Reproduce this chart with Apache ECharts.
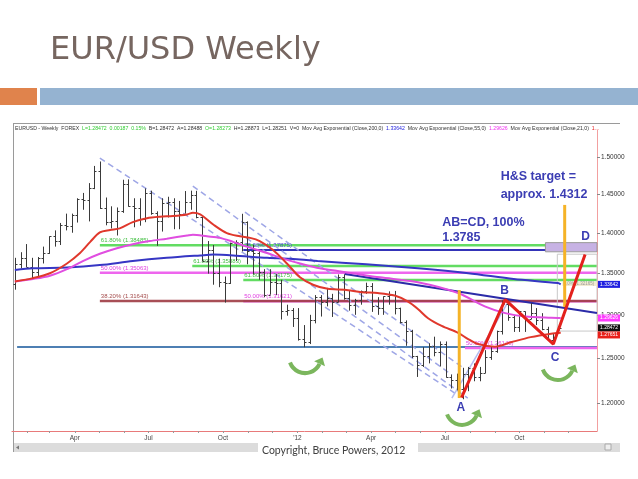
<!DOCTYPE html>
<html><head><meta charset="utf-8">
<script src="https://cdn.jsdelivr.net/npm/echarts@6/dist/echarts.min.js"></script>
<style>html,body{margin:0;padding:0;background:#fff}#c{width:638px;height:479px}</style>
</head><body><div id="c"></div><script>
// Weekly EUR/USD bars, index 0 = week of 17 Jan 2011 ... 96 = week of 19 Nov 2012
const opens = [1.3370,1.3616,1.3693,1.3580,1.3520,1.3690,1.3750,1.3960,1.3900,1.4100,1.4090,1.4235,1.4440,1.4425,1.4580,1.4810,1.4320,1.4140,1.4150,1.4280,1.4640,1.4345,1.4320,1.4180,1.4515,1.4260,1.4150,1.4390,1.4395,1.4280,1.4250,1.4395,1.4495,1.4205,1.3655,1.3790,1.3500,1.3390,1.3380,1.3870,1.3890,1.4145,1.3770,1.3750,1.3520,1.3240,1.3390,1.3380,1.3045,1.3060,1.2960,1.2720,1.2680,1.2935,1.3215,1.3150,1.3200,1.3150,1.3450,1.3200,1.3120,1.3180,1.3280,1.3340,1.3100,1.3080,1.3220,1.3240,1.3080,1.2920,1.2815,1.2520,1.2420,1.2520,1.2640,1.2570,1.2660,1.2290,1.2250,1.2155,1.2320,1.2385,1.2290,1.2335,1.2515,1.2575,1.2815,1.3130,1.2970,1.2860,1.3040,1.2950,1.3020,1.2940,1.2830,1.2710,1.2827];
const highs = [1.3690,1.3760,1.3862,1.3690,1.3700,1.3830,1.3960,1.4035,1.4130,1.4250,1.4250,1.4450,1.4520,1.4650,1.4880,1.4940,1.4460,1.4345,1.4330,1.4695,1.4700,1.4450,1.4450,1.4580,1.4550,1.4280,1.4450,1.4470,1.4450,1.4415,1.4545,1.4550,1.4548,1.4210,1.3900,1.3850,1.3680,1.3460,1.3880,1.3910,1.4248,1.4150,1.3850,1.3790,1.3550,1.3550,1.3490,1.3420,1.3120,1.3080,1.3080,1.2880,1.3000,1.3235,1.3235,1.3322,1.3250,1.3485,1.3487,1.3290,1.3190,1.3290,1.3385,1.3380,1.3210,1.3220,1.3280,1.3285,1.3085,1.2935,1.2825,1.2525,1.2625,1.2670,1.2745,1.2690,1.2690,1.2315,1.2325,1.2390,1.2400,1.2440,1.2400,1.2590,1.2635,1.2815,1.3170,1.3170,1.3000,1.3040,1.3040,1.3140,1.3080,1.3020,1.2860,1.2780,1.2887];
const lows = [1.3300,1.3560,1.3575,1.3430,1.3440,1.3620,1.3740,1.3830,1.3850,1.4035,1.4005,1.4135,1.4300,1.4150,1.4570,1.4310,1.4100,1.4060,1.3970,1.4260,1.4340,1.4075,1.4095,1.4140,1.4235,1.3840,1.4020,1.4200,1.4050,1.4050,1.4250,1.4300,1.4190,1.3650,1.3495,1.3360,1.3330,1.3145,1.3370,1.3650,1.3770,1.3610,1.3485,1.3420,1.3210,1.3240,1.3235,1.2945,1.2990,1.2858,1.2700,1.2624,1.2660,1.2900,1.2980,1.3100,1.2975,1.3150,1.3180,1.3050,1.3000,1.3120,1.3250,1.3035,1.3000,1.3000,1.3120,1.3005,1.2900,1.2640,1.2500,1.2288,1.2400,1.2440,1.2520,1.2405,1.2280,1.2160,1.2140,1.2042,1.2130,1.2240,1.2240,1.2330,1.2480,1.2560,1.2770,1.2930,1.2800,1.2800,1.2800,1.2950,1.2880,1.2820,1.2700,1.2660,1.2825];
const closes = [1.3616,1.3693,1.3580,1.3520,1.3690,1.3750,1.3960,1.3900,1.4100,1.4090,1.4235,1.4440,1.4425,1.4580,1.4810,1.4320,1.4140,1.4150,1.4280,1.4640,1.4345,1.4320,1.4180,1.4515,1.4260,1.4150,1.4390,1.4395,1.4280,1.4250,1.4395,1.4495,1.4205,1.3655,1.3790,1.3500,1.3390,1.3380,1.3870,1.3890,1.4145,1.3770,1.3750,1.3520,1.3240,1.3390,1.3380,1.3045,1.3060,1.2960,1.2720,1.2680,1.2935,1.3215,1.3150,1.3200,1.3150,1.3450,1.3200,1.3120,1.3180,1.3280,1.3340,1.3100,1.3080,1.3220,1.3240,1.3080,1.2920,1.2815,1.2520,1.2420,1.2520,1.2640,1.2570,1.2660,1.2290,1.2250,1.2155,1.2320,1.2385,1.2290,1.2335,1.2515,1.2575,1.2815,1.3130,1.2970,1.2860,1.3040,1.2950,1.3020,1.2940,1.2830,1.2710,1.2745,1.2847];

// Moving averages: [week index, price]
const ema21 = [[0,1.340],[3.2,1.344],[6.2,1.350],[9.2,1.362],[11.5,1.375],[13.3,1.389],[15,1.401],[16.8,1.404],[18.5,1.406],[20.8,1.414],[23.3,1.419],[25.6,1.421],[27.9,1.422],[30.4,1.424],[31.4,1.426],[32.7,1.424],[35,1.411],[37.4,1.400],[39.7,1.396],[41.5,1.394],[43.2,1.390],[45.5,1.379],[48,1.362],[50.3,1.345],[52.6,1.336],[55.2,1.331],[58.2,1.330],[61.2,1.327],[64,1.326],[67,1.323],[69.3,1.316],[71.1,1.307],[72.9,1.296],[75.3,1.287],[78.2,1.279],[79.9,1.272],[81.7,1.266],[84.7,1.263],[87.5,1.268],[91,1.274],[94.6,1.278],[96.3,1.279]];
const ema55 = [[0,1.340],[3.2,1.343],[6.2,1.347],[9.2,1.355],[12,1.365],[15,1.374],[18,1.381],[20.8,1.386],[23.8,1.390],[26.8,1.393],[30.4,1.397],[31.4,1.398],[33.9,1.396],[36.2,1.394],[38.5,1.389],[40.9,1.383],[44.5,1.375],[47.3,1.368],[50.3,1.362],[53.8,1.356],[59.6,1.350],[64.4,1.345],[71.1,1.339],[78.2,1.326],[82.9,1.310],[86.5,1.302],[90,1.298],[94.6,1.2965],[96.3,1.2963]];
const ema200 = [[0,1.354],[3.2,1.356],[9.2,1.357],[15,1.360],[20.8,1.365],[26.8,1.369],[32.7,1.372],[35,1.373],[38.5,1.372],[44.5,1.369],[50.3,1.367],[53.4,1.365],[62,1.361],[71.1,1.356],[80,1.350],[88,1.343],[95.8,1.338],[96.3,1.3364]];

// Axis tick labels
const xLabelPos = [10.57, 23.57, 36.71, 49.86, 62.86, 75.86, 89.0];
const xLabelText = ['Apr','Jul','Oct',"'12",'Apr','Jul','Oct'];
const xMonthTicks = [2.14,6.14,10.57,14.86,19.29,23.57,28.0,32.43,36.71,41.14,45.43,49.86,54.29,58.43,62.86,67.14,71.57,75.86,80.29,84.71,89.0,93.43,97.71];
const yTicks = [1.20,1.25,1.30,1.35,1.40,1.45,1.50];

// Horizontal levels (Fibonacci / support)
const levelStart = [15.0,15.0,40.3,15.0,31.3,40.3,40.3,0.4,79.4];
const levelPrice = [1.38485,1.35063,1.31621,1.31643,1.35883,1.37875,1.34175,1.2627,1.2615];
const levelText  = ['61.80% (1.38485)','50.00% (1.35063)','50.00% (1.31621)','38.20% (1.31643)','61.80% (1.35883)','78.60% (1.37875)','61.80% (1.34175)','','50.00% (1.26148)'];
const levelKind  = ['fib618','fib50','fib50','fib382','fib618','fib786','fib618','support','fib50'];

// Neckline (sloped trend line)
const necklineIdx = [58.2, 102.7];
const necklinePrice = [1.349, 1.3021];

// Descending dashed channel lines
const chanStartIdx = [15.0, 31.4, 40.6, 39.4];
const chanStartPrice = [1.4987, 1.4611, 1.4270, 1.4014];
const chanEndIdx = [77.6, 77.1, 78.9, 79.9];
const chanEndPrice = [1.2110, 1.2310, 1.2399, 1.2055];

// Rising regression line from A
const riseIdx = [77.1, 87.0];
const risePrice = [1.2055, 1.3152];

// AB=CD pattern
const abcdIdx = [78.8, 86.5, 95.0, 100.6];
const abcdPrice = [1.206, 1.318, 1.266, 1.373];
const abcdLabel = ['A','B','C','D'];
const abcdLabelIdx = [78.7, 86.4, 95.3, 100.7];
const abcdLabelPrice = [1.1946, 1.3284, 1.2500, 1.395];

// Orange measuring lines
const orangeIdx = [78.4, 97.0];
const orangeLow = [1.2055, 1.3092];
const orangeHigh = [1.3296, 1.4363];

// Green turn arrows
const arrowIdx = [51.2, 78.9, 95.8];
const arrowPrice = [1.2421, 1.185, 1.2343];

// Notes
const noteText = ['H&S target =','approx. 1.4312','AB=CD, 100%','1.3785'];
const noteIdx = [85.7, 85.7, 75.4, 75.4];
const notePrice = [1.4731, 1.4505, 1.4141, 1.3938];

// Right-axis value boxes
const tagPrice = [1.33642, 1.29626, 1.28472, 1.2765];
const tagText = ['1.33642','1.29626','1.28472','1.27651'];
const tagKind = ['ema200','ema55','last','ema21'];

const X_MIN = -0.5, X_MAX = 102.7;
const levelStyle = {
  fib618:{line:'#62dc62', w:2.5, text:'#3fbf3f'},
  fib50:{line:'#ee66ee', w:2.5, text:'#e040e0'},
  fib382:{line:'#9e3c44', w:2.5, text:'#a34a4a'},
  fib786:{line:'#3434b8', w:2, text:'#4a4ac8'},
  support:{line:'#4d7fb3', w:2, text:'#4d7fb3'}
};
const tagStyle = {ema200:'#2020e0', ema55:'#ff3cff', last:'#111111', ema21:'#e8201a'};

const chart = echarts.init(document.getElementById('c'), null, {renderer:'canvas'});

function txt(x,y,text,fill,font,align,valign){
  return {type:'text', style:{x:x,y:y,text:text,fill:fill,font:font,textAlign:align||'left',textVerticalAlign:valign||'middle',align:align||'left',verticalAlign:valign||'middle'}};
}

const option = {
  animation:false,
  backgroundColor:'#ffffff',
  grid:{left:12, right:41, top:130, bottom:48, containLabel:false, outerBoundsMode:'none'},
  xAxis:{type:'value', min:X_MIN, max:X_MAX,
    axisLine:{show:true, onZero:false, lineStyle:{color:'#e87a7a', width:1}},
    axisTick:{show:true, customValues:xMonthTicks, length:2, lineStyle:{color:'#999'}},
    axisLabel:{show:true, customValues:xLabelPos, fontSize:6.5, color:'#444', margin:4, fontFamily:'Liberation Sans',
      formatter:function(v){ let b=0; for(let i=1;i<xLabelPos.length;i++){ if(Math.abs(xLabelPos[i]-v)<Math.abs(xLabelPos[b]-v)) b=i; } return xLabelText[b]; }},
    splitLine:{show:false}},
  yAxis:{type:'log', logBase:10, min:1.17, max:1.5373, position:'right',
    axisLine:{show:true, onZero:false, lineStyle:{color:'#f2a0a0', width:1}},
    axisTick:{show:true, customValues:yTicks, length:3, lineStyle:{color:'#888'}},
    axisLabel:{show:true, customValues:yTicks, fontSize:6.5, color:'#333', margin:4, fontFamily:'Liberation Sans',
      formatter:function(v){ return Number(v).toFixed(5); }},
    splitLine:{show:false}},
  graphic:{elements:[
    {type:'rect', silent:true, shape:{x:0,y:88,width:37,height:17}, style:{fill:'#e0834c'}},
    {type:'rect', silent:true, shape:{x:40,y:88,width:598,height:17}, style:{fill:'#95b3d1'}},
    Object.assign(txt(50,51,'EUR/USD Weekly','#766660','normal 32px "DejaVu Sans"'),{silent:true}),
    {type:'line', silent:true, shape:{x1:13,y1:123.5,x2:620,y2:123.5}, style:{stroke:'#9a9a9a', lineWidth:1}},
    {type:'line', silent:true, shape:{x1:13.5,y1:123,x2:13.5,y2:452}, style:{stroke:'#9a9a9a', lineWidth:1}},
    {type:'text', silent:true, style:{x:15, y:129, textVerticalAlign:'middle', verticalAlign:'middle', font:'5.2px "Liberation Sans"',
      text:'{k|EURUSD - Weekly  FOREX  }{g|L=1.28472  0.00187  0.15%  }{k|B=1.28472  A=1.28488  }{g|O=1.28273  }{k|H=1.28873  L=1.28251  V=0  Mov Avg Exponential (Close,200,0)  }{b|1.33642  }{k|Mov Avg Exponential (Close,55,0)  }{m|1.29626  }{k|Mov Avg Exponential (Close,21,0)  }{r|1...}',
      rich:{k:{fill:'#333',font:'5.2px "Liberation Sans"'},g:{fill:'#33cc33',font:'5.2px "Liberation Sans"'},b:{fill:'#2222dd',font:'5.2px "Liberation Sans"'},m:{fill:'#ee33ee',font:'5.2px "Liberation Sans"'},r:{fill:'#e82020',font:'5.2px "Liberation Sans"'}}}},
    {type:'rect', silent:true, shape:{x:14,y:443,width:606,height:9}, style:{fill:'#dcdcdc'}},
    {type:'polygon', silent:true, shape:{points:[[16,447.5],[19,445.5],[19,449.5]]}, style:{fill:'#777'}},
    {type:'rect', silent:true, shape:{x:605,y:444,width:6,height:6}, style:{fill:'#eee', stroke:'#aaa', lineWidth:1}},
    {type:'rect', silent:true, shape:{x:258,y:442,width:160,height:18}, style:{fill:'#ffffff'}},
    Object.assign(txt(262,451,'Copyright, Bruce Powers, 2012','#404040','10.5px Lato'),{silent:true})
  ]},
  series:[
    { // Fibonacci / support levels
      type:'custom', z:1, silent:true,
      data: levelPrice.map((p,i)=>[levelStart[i], p]),
      encode:{x:0,y:1},
      renderItem:function(params, api){
        const i = params.dataIndex, st = levelStyle[levelKind[i]];
        const a = api.coord([api.value(0), api.value(1)]);
        const b = api.coord([X_MAX, api.value(1)]);
        const ch = [{type:'line', shape:{x1:a[0],y1:a[1],x2:b[0],y2:b[1]}, style:{stroke:st.line, lineWidth:st.w, opacity:levelKind[i]==='fib382'?0.9:1}}];
        if(levelText[i]) ch.push(txt(a[0]+1, a[1]-4.8, levelText[i], st.text, '6px "Liberation Sans"'));
        return {type:'group', children:ch};
      }
    },
    { // boxes near D
      type:'custom', z:1, silent:true,
      data:[[93.6, 1.388]],
      encode:{x:0,y:1},
      renderItem:function(params, api){
        const a = api.coord([93.6, 1.388]), b = api.coord([X_MAX, 1.3765]);
        const c = api.coord([95.7, 1.3735]), d = api.coord([X_MAX, 1.281]);
        const e = api.coord([96.6, 1.3395]), f = api.coord([X_MAX, 1.3345]);
        return {type:'group', children:[
          {type:'rect', shape:{x:a[0],y:a[1],width:b[0]-a[0],height:b[1]-a[1]}, style:{fill:'#c7b2e4', stroke:'#999', lineWidth:1}},
          {type:'rect', shape:{x:c[0],y:c[1],width:d[0]-c[0],height:d[1]-c[1]}, style:{fill:null, stroke:'#c8c8c8', lineWidth:1}},
          {type:'rect', shape:{x:e[0],y:e[1],width:f[0]-e[0],height:f[1]-e[1]}, style:{fill:'#f1ead0'}},
          txt(e[0]+1,(e[1]+f[1])/2,'0.0% (1.32165)','#999','4.5px "Liberation Sans"')
        ]};
      }
    },
    { // neckline
      type:'line', z:2, silent:true, showSymbol:false,
      data: necklineIdx.map((x,i)=>[x, necklinePrice[i]]),
      lineStyle:{color:'#2b2ba8', width:2}
    },
    { // dashed channel lines
      type:'custom', z:2, silent:true,
      data: chanStartIdx.map((x,i)=>[x, chanStartPrice[i], chanEndIdx[i], chanEndPrice[i]]),
      encode:{x:[0,2], y:[1,3]},
      renderItem:function(params, api){
        const a = api.coord([api.value(0), api.value(1)]);
        const b = api.coord([api.value(2), api.value(3)]);
        return {type:'line', shape:{x1:a[0],y1:a[1],x2:b[0],y2:b[1]}, style:{stroke:'#9ea6e6', lineWidth:1.5, lineDash:[6,4]}};
      }
    },
    { // rising regression line
      type:'line', z:2, silent:true, showSymbol:false,
      data: riseIdx.map((x,i)=>[x, risePrice[i]]),
      lineStyle:{color:'#b4bcf0', width:1.5}
    },
    { // weekly OHLC bars
      type:'custom', z:3, silent:true,
      data: opens.map((o,i)=>[i, o, highs[i], lows[i], closes[i]]),
      encode:{x:0, y:[1,2,3,4]},
      renderItem:function(params, api){
        const x = api.value(0);
        const pH = api.coord([x, api.value(2)]), pL = api.coord([x, api.value(3)]);
        const pO = api.coord([x, api.value(1)]), pC = api.coord([x, api.value(4)]);
        const cx = Math.round(pH[0]) + 0.5;
        const st = {stroke:'#3a3a3a', lineWidth:1};
        const yo = Math.round(pO[1]) + 0.5, yc = Math.round(pC[1]) + 0.5;
        return {type:'group', children:[
          {type:'line', shape:{x1:cx,y1:pH[1],x2:cx,y2:pL[1]}, style:st},
          {type:'line', shape:{x1:cx-2,y1:yo,x2:cx,y2:yo}, style:st},
          {type:'line', shape:{x1:cx,y1:yc,x2:cx+2,y2:yc}, style:st}
        ]};
      }
    },
    {type:'line', z:4, silent:true, showSymbol:false, smooth:0.3, data:ema200, lineStyle:{color:'#3636c4', width:2}},
    {type:'line', z:4, silent:true, showSymbol:false, smooth:0.3, data:ema55, lineStyle:{color:'#e04ee0', width:2}},
    {type:'line', z:4, silent:true, showSymbol:false, smooth:0.3, data:ema21, lineStyle:{color:'#e0382c', width:2}},
    { // orange vertical measuring lines
      type:'custom', z:5, silent:true,
      data: orangeIdx.map((x,i)=>[x, orangeLow[i], orangeHigh[i]]),
      encode:{x:0, y:[1,2]},
      renderItem:function(params, api){
        const a = api.coord([api.value(0), api.value(1)]), b = api.coord([api.value(0), api.value(2)]);
        return {type:'line', shape:{x1:a[0],y1:a[1],x2:b[0],y2:b[1]}, style:{stroke:'#f5b327', lineWidth:3}};
      }
    },
    { // AB=CD red legs
      type:'line', z:6, silent:true, showSymbol:false,
      data: abcdIdx.map((x,i)=>[x, abcdPrice[i]]),
      lineStyle:{color:'#e3211c', width:3}
    },
    { // A B C D labels
      type:'custom', z:7, silent:true,
      data: abcdLabelIdx.map((x,i)=>[x, abcdLabelPrice[i]]),
      encode:{x:0,y:1},
      renderItem:function(params, api){
        const p = api.coord([api.value(0), api.value(1)]);
        return txt(p[0], p[1], abcdLabel[params.dataIndex], '#3b3db3', 'bold 12px "Liberation Sans"', 'center');
      }
    },
    { // notes
      type:'custom', z:7, silent:true,
      data: noteIdx.map((x,i)=>[x, notePrice[i]]),
      encode:{x:0,y:1},
      renderItem:function(params, api){
        const p = api.coord([api.value(0), api.value(1)]);
        return txt(p[0], p[1], noteText[params.dataIndex], '#3b3db3', 'bold 12.5px "Liberation Sans"', 'left');
      }
    },
    { // green turn arrows
      type:'custom', z:7, silent:true,
      data: arrowIdx.map((x,i)=>[x, arrowPrice[i]]),
      encode:{x:0,y:1},
      renderItem:function(params, api){
        const p = api.coord([api.value(0), api.value(1)]);
        const r = 16, cx = p[0], cy = p[1] - 8;
        const a0 = 160*Math.PI/180, a1 = 25*Math.PI/180;
        const ex = cx + r*Math.cos(a1), ey = cy + r*Math.sin(a1);
        const dx = Math.sin(a1), dy = -Math.cos(a1);
        const nx = -dy, ny = dx;
        return {type:'group', children:[
          {type:'arc', shape:{cx:cx, cy:cy, r:r, startAngle:a0, endAngle:a1, clockwise:false}, style:{stroke:'#7bb65d', lineWidth:4, fill:null}},
          {type:'polygon', shape:{points:[[ex+dx*7,ey+dy*7],[ex+nx*6,ey+ny*6],[ex-nx*6,ey-ny*6]]}, style:{fill:'#7bb65d'}}
        ]};
      }
    },
    { // right-axis value tags
      type:'custom', z:8, silent:true,
      data: tagPrice.map(p=>[X_MAX, p]),
      encode:{x:0,y:1},
      renderItem:function(params, api){
        const p = api.coord([api.value(0), api.value(1)]);
        const col = tagStyle[tagKind[params.dataIndex]];
        return {type:'group', children:[
          {type:'rect', shape:{x:p[0]+1, y:p[1]-3.5, width:22, height:7}, style:{fill:col}},
          txt(p[0]+3, p[1], tagText[params.dataIndex], '#ffffff', '5px "Liberation Sans"')
        ]};
      }
    }
  ]
};
chart.setOption(option);
</script></body></html>
